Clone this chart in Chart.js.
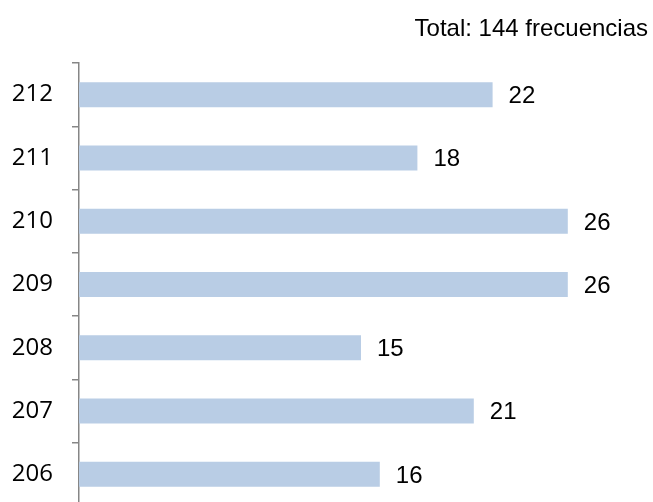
<!DOCTYPE html>
<html>
<head>
<meta charset="utf-8">
<script src="https://cdn.jsdelivr.net/npm/chart.js@4"></script>
<style>
  html, body { margin: 0; padding: 0; background: #fff; overflow: hidden; }
  canvas { display: block; }
</style>
</head>
<body>
<canvas id="chart" width="653" height="512"></canvas>
<script>
// --- Data ---
const categories = ['212', '211', '210', '209', '208', '207', '206'];
const frequencies = [22, 18, 26, 26, 15, 21, 16];
const titleText = 'Total: 144 frecuencias';
const xMax = 30;

const barColor = '#B9CDE5';
const axisColor = '#868686';

// value labels to the right of each bar
const valueLabels = {
    id: 'valueLabels',
    afterDatasetsDraw(chart) {
        const ctx = chart.ctx;
        const meta = chart.getDatasetMeta(0);
        ctx.save();
        ctx.font = '24px "Liberation Sans", Arial, sans-serif';
        ctx.fillStyle = '#000';
        ctx.textAlign = 'left';
        ctx.textBaseline = 'alphabetic';
        meta.data.forEach((bar, i) => {
            ctx.fillText(String(frequencies[i]), bar.x + 16, bar.y + 8.3);
        });
        ctx.restore();
    }
};

// title in the top right corner
const cornerTitle = {
    id: 'cornerTitle',
    afterDraw(chart) {
        const ctx = chart.ctx;
        ctx.save();
        ctx.font = '24px "Liberation Sans", Arial, sans-serif';
        ctx.fillStyle = '#000';
        ctx.textAlign = 'right';
        ctx.textBaseline = 'alphabetic';
        ctx.fillText(titleText, 648, 36);
        ctx.restore();
    }
};

new Chart(document.getElementById('chart'), {
    type: 'bar',
    data: {
        labels: categories,
        datasets: [{
            data: frequencies,
            backgroundColor: barColor,
            borderWidth: 0,
            categoryPercentage: 1,
            barPercentage: 0.395
        }]
    },
    options: {
        indexAxis: 'y',
        responsive: false,
        animation: false,
        layout: { padding: { top: 63, right: 10, bottom: 6, left: 0 } },
        plugins: {
            legend: { display: false },
            tooltip: { enabled: false },
            title: { display: false }
        },
        scales: {
            x: { display: false, min: 0, max: xMax },
            y: {
                afterFit: (scale) => {
                    scale.width = 79;
                    scale.paddingTop = 0;
                    scale.paddingBottom = 0;
                },
                grid: {
                    drawOnChartArea: false,
                    drawTicks: true,
                    tickLength: 7,
                    color: axisColor,
                    lineWidth: 1.5,
                    offset: true
                },
                border: { display: true, color: axisColor, width: 1.5 },
                ticks: {
                    padding: 19,
                    color: '#000',
                    font: { family: "'Open Sans', sans-serif", size: 24 }
                }
            }
        }
    },
    plugins: [valueLabels, cornerTitle]
});
</script>
</body>
</html>
